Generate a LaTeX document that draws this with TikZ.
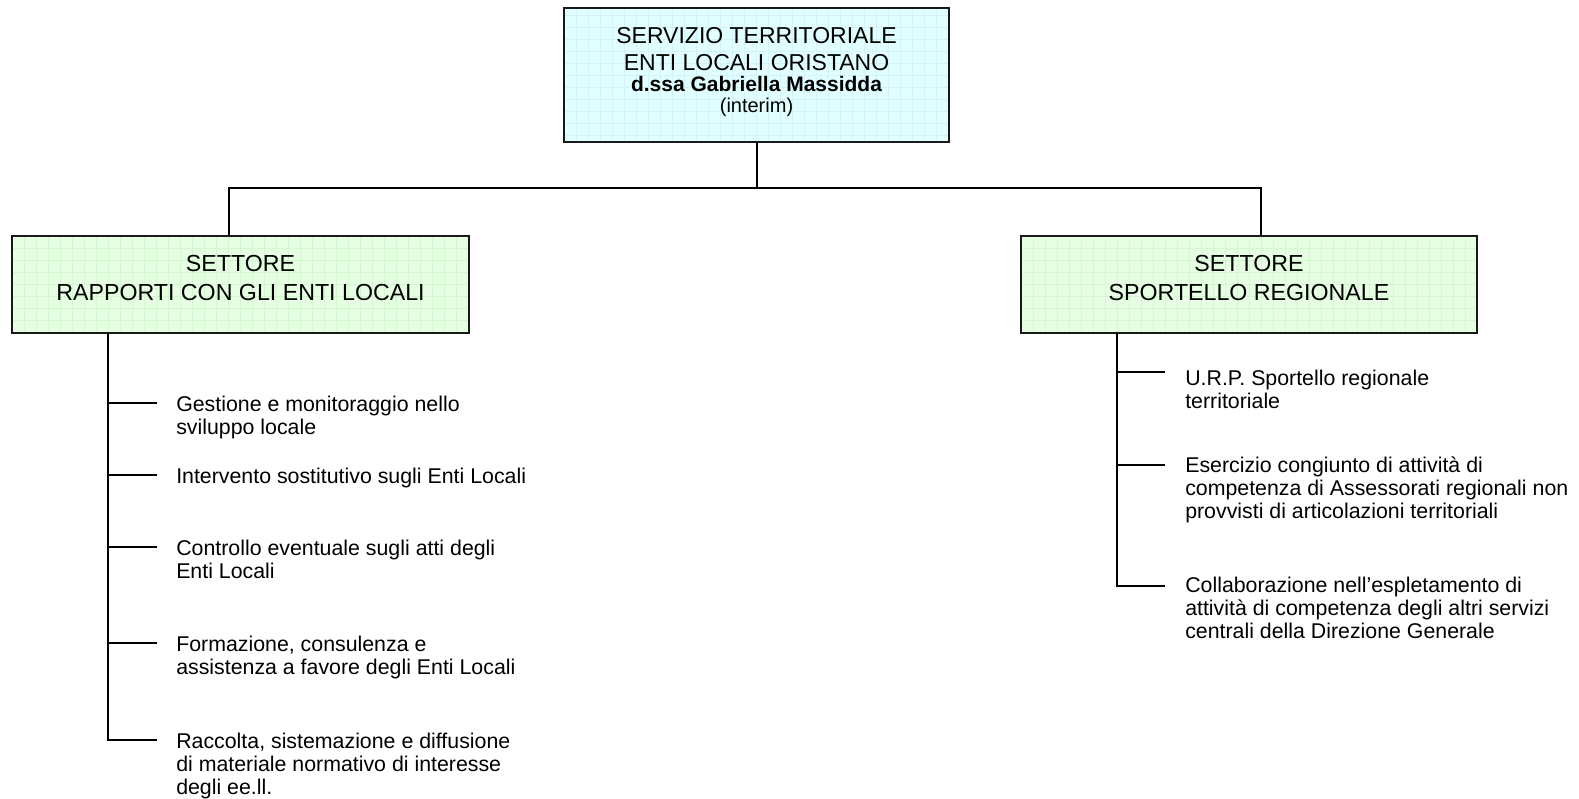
\documentclass[tikz,border=0pt]{standalone}
\usepackage{fontspec}
\setmainfont{Liberation Sans}
\definecolor{topfill}{RGB}{226,255,255}
\definecolor{topgrid}{RGB}{212,242,250}
\definecolor{secfill}{RGB}{230,255,226}
\definecolor{secgrid}{RGB}{212,246,208}
\newcommand{\itemlines}[1]{\vtop{\lineskiplimit=-30pt#1}}
\tikzset{
  x=0.75pt, y=-0.75pt,
  topbox/.style={draw=black!90, line width=1.5pt, fill=topfill, inner sep=0pt,
    path picture={\draw[topgrid, line width=0.3pt, step=9pt] (path picture bounding box.south west) grid (path picture bounding box.north east);}},
  secbox/.style={draw=black!90, line width=1.5pt, fill=secfill, inner sep=0pt,
    path picture={\draw[secgrid, line width=0.3pt, step=9pt] (path picture bounding box.south west) grid (path picture bounding box.north east);}},
  conn/.style={line width=1.5pt, black},
  boxtxt/.style={anchor=base, inner sep=0pt, font=\fontsize{17.4}{20}\selectfont},
  listtxt/.style={anchor=base west, inner sep=0pt, align=left, font=\fontsize{16}{17.5}\selectfont},
}
\begin{document}
\begin{tikzpicture}
\useasboundingbox (0,0) rectangle (1579,799);
% boxes
\node[topbox, minimum width=289pt, minimum height=100.5pt] (top) at (756.5,75) {};
\node[secbox, minimum width=342.75pt, minimum height=72.75pt] (lbox) at (240.5,284.5) {};
\node[secbox, minimum width=342pt, minimum height=72.75pt] (rbox) at (1249,284.5) {};
% box texts
\node[boxtxt, font=\fontsize{17.25}{20}\selectfont] (tl1) at (756.5,44) {SERVIZIO TERRITORIALE};
\node[boxtxt, font=\fontsize{17.25}{20}\selectfont] (tl2) at (756.5,71) {ENTI LOCALI ORISTANO};
\node[boxtxt, font=\fontsize{15.75}{18}\selectfont\bfseries] (tl3) at (756.5,92) {d.ssa Gabriella Massidda};
\node[boxtxt, font=\fontsize{15}{18}\selectfont] (tl4) at (756.5,113) {(interim)};
\node[boxtxt] (ll1) at (240.5,271) {SETTORE};
\node[boxtxt] (ll2) at (240.5,300) {RAPPORTI CON GLI ENTI LOCALI};
\node[boxtxt] (rl1) at (1249,271) {SETTORE};
\node[boxtxt] (rl2) at (1249,300) {SPORTELLO REGIONALE};
% upper connectors
\coordinate (hl) at (229,188);
\coordinate (hr) at (1261,188);
\coordinate (lin) at (229,236);
\coordinate (rin) at (1261,236);
\draw[conn] (top.south) -- (top.south |- hl);
\draw[conn] (lin) -- (hl) -- (hr) -- (rin);
% left list
\coordinate (lt) at (108,333);
\coordinate (b1) at (157,403);
\coordinate (b2) at (157,475);
\coordinate (b3) at (157,547);
\coordinate (b4) at (157,643);
\coordinate (b5) at (157,740);
\draw[conn] (lt) |- (b5);
\foreach \b in {b1,b2,b3,b4} \draw[conn] (lt |- \b) -- (\b);
\node[listtxt] (i1) at (176,411) {\itemlines{\hbox{Gestione e monitoraggio nello}\hbox{sviluppo locale}}};
\node[listtxt] (i2) at (176,483) {\itemlines{\hbox{Intervento sostitutivo sugli Enti Locali}}};
\node[listtxt] (i3) at (176,555) {\itemlines{\hbox{Controllo eventuale sugli atti degli}\hbox{Enti Locali}}};
\node[listtxt] (i4) at (176,651) {\itemlines{\hbox{Formazione, consulenza e}\hbox{assistenza a favore degli Enti Locali}}};
\node[listtxt] (i5) at (176,748) {\itemlines{\hbox{Raccolta, sistemazione e diffusione}\hbox{di materiale normativo di interesse}\hbox{degli ee.ll.}}};
% right list
\coordinate (rt) at (1117,333);
\coordinate (c1) at (1165,372);
\coordinate (c2) at (1165,465);
\coordinate (c3) at (1165,586);
\draw[conn] (rt) |- (c3);
\foreach \c in {c1,c2} \draw[conn] (rt |- \c) -- (\c);
\node[listtxt] (j1) at (1185,385) {\itemlines{\hbox{U.R.P. Sportello regionale}\hbox{territoriale}}};
\node[listtxt] (j2) at (1185,472) {\itemlines{\hbox{Esercizio congiunto di attività di}\hbox{competenza di Assessorati regionali non}\hbox{provvisti di articolazioni territoriali}}};
\node[listtxt] (j3) at (1185,592) {\itemlines{\hbox{Collaborazione nell’espletamento di}\hbox{attività di competenza degli altri servizi}\hbox{centrali della Direzione Generale}}};
\end{tikzpicture}
\end{document}
